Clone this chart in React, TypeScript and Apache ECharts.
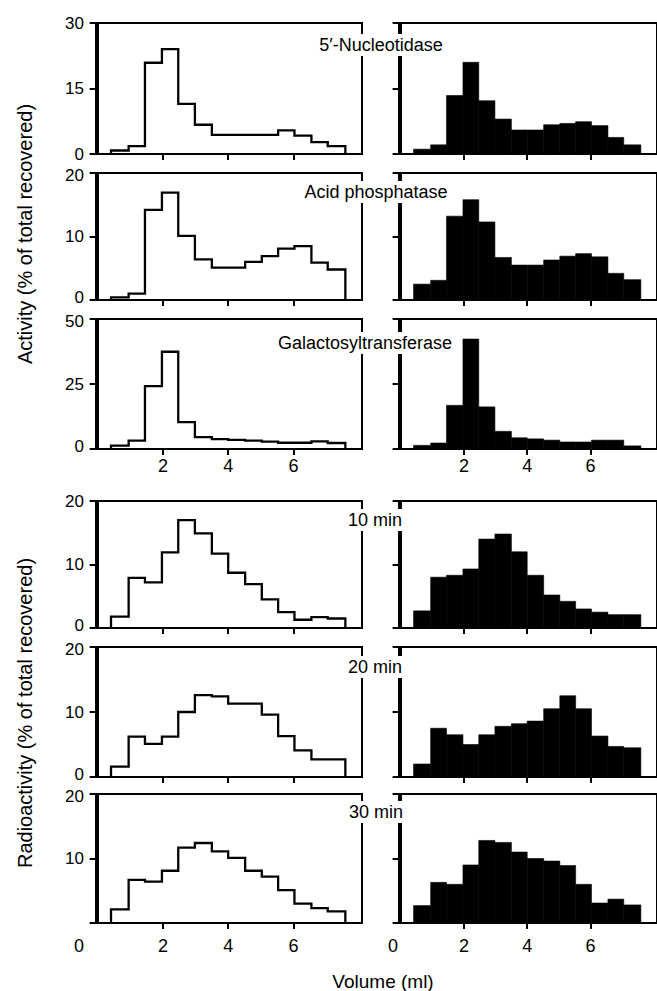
import React, { useEffect, useRef } from "react";
import * as echarts from "echarts";

// ---- data ----
const binEdges = [0.41, 0.95, 1.45, 1.97, 2.47, 2.98, 3.5, 4.0, 4.52, 5.03, 5.53, 6.03, 6.55, 7.05, 7.59];
const xTickValues = [2, 4, 6];

const panelNames = ["5′-Nucleotidase", "Acid phosphatase", "Galactosyltransferase", "10 min", "20 min", "30 min"];
const yMax = [30, 20, 50, 20, 20, 20];

// open histograms (left column)
const nucleotidaseOpen = [0.8, 1.8, 20.9, 24.0, 11.5, 6.7, 4.4, 4.4, 4.4, 4.4, 5.4, 4.2, 2.7, 1.8];
const acidOpen = [0.4, 1.0, 14.2, 16.9, 10.1, 6.4, 5.1, 5.1, 6.0, 6.9, 8.1, 8.5, 5.9, 4.8];
const galactoOpen = [1.3, 3.2, 24.2, 37.4, 10.3, 4.6, 3.8, 3.5, 3.2, 2.8, 2.4, 2.4, 2.9, 2.3];
const min10Open = [1.8, 7.9, 7.2, 11.9, 17.0, 14.9, 11.7, 8.7, 6.9, 4.5, 2.5, 1.3, 1.7, 1.5];
const min20Open = [1.6, 6.2, 5.1, 6.2, 10.0, 12.6, 12.4, 11.3, 11.3, 9.6, 6.3, 4.1, 2.7, 2.7];
const min30Open = [2.1, 6.7, 6.4, 8.1, 11.7, 12.4, 11.1, 10.1, 8.1, 7.2, 5.1, 3.0, 2.3, 1.8];

// filled histograms (right column)
const nucleotidaseFilled = [1.1, 2.1, 13.4, 21.0, 12.2, 8.0, 5.5, 5.5, 6.7, 7.0, 7.4, 6.5, 3.8, 2.1];
const acidFilled = [2.5, 3.1, 13.2, 15.8, 12.3, 6.7, 5.5, 5.5, 6.3, 6.9, 7.3, 6.8, 4.2, 3.2];
const galactoFilled = [1.4, 2.3, 16.8, 42.3, 16.2, 6.8, 4.3, 3.9, 3.4, 2.7, 2.7, 3.4, 3.4, 1.2];
const min10Filled = [2.7, 8.0, 8.3, 9.3, 14.0, 14.8, 12.0, 8.3, 5.2, 4.2, 3.0, 2.5, 2.1, 2.1];
const min20Filled = [2.0, 7.5, 6.5, 5.0, 6.5, 7.8, 8.2, 8.6, 10.5, 12.5, 10.5, 6.3, 4.7, 4.5];
const min30Filled = [2.7, 6.3, 6.0, 9.0, 12.8, 12.5, 11.0, 10.0, 9.6, 8.9, 6.0, 3.1, 3.7, 2.8];

const openSeries = [nucleotidaseOpen, acidOpen, galactoOpen, min10Open, min20Open, min30Open];
const filledSeries = [nucleotidaseFilled, acidFilled, galactoFilled, min10Filled, min20Filled, min30Filled];

// ---- layout ----
const FONT = "'Liberation Sans', Arial, Helvetica, sans-serif";
const rowTop = [23, 173, 319, 501, 647, 794];
const rowHeight = [131, 127, 130, 127, 130, 129];
const colLeft = [96, 399];
const colWidth = 266;
const labelPos = [
  [381, 45],
  [376, 192],
  [365, 343],
  [375, 520],
  [375, 667],
  [376, 812],
];
const xLabelRows: Record<number, number> = { 2: 8, 5: 14 };

function outline(values: number[]) {
  const pts: number[][] = [[binEdges[0], 0]];
  values.forEach((v, i) => {
    pts.push([binEdges[i], v]);
    pts.push([binEdges[i + 1], v]);
  });
  pts.push([binEdges[values.length], 0]);
  return pts;
}

export default function App() {
  const ref = useRef<HTMLDivElement>(null);
  useEffect(() => {
    const chart = echarts.init(ref.current!, null, { renderer: "svg" });
    const grids: any[] = [];
    const xAxes: any[] = [];
    const yAxes: any[] = [];
    const series: any[] = [];
    const tickRich = {
      up: { fontSize: 17, fontFamily: FONT, color: "#000", padding: [0, 0, 5, 0] },
      down: { fontSize: 17, fontFamily: FONT, color: "#000", padding: [5, 0, 0, 0] },
    };
    for (let r = 0; r < 6; r++) {
      for (let c = 0; c < 2; c++) {
        const idx = r * 2 + c;
        grids.push({
          left: colLeft[c],
          top: rowTop[r],
          width: colWidth,
          height: rowHeight[r],
          show: true,
          borderColor: "#000",
          borderWidth: 2,
          backgroundColor: "transparent",
          containLabel: false,
        });
        const showX = xLabelRows[r] !== undefined;
        xAxes.push({
          gridIndex: idx,
          type: "value",
          min: -0.05,
          max: 8.1,
          axisLine: { show: true, onZero: false, lineStyle: { color: "#000", width: 2 } },
          axisTick: { show: true, inside: false, length: 6, customValues: xTickValues, lineStyle: { color: "#000", width: 2 } },
          axisLabel: {
            show: showX,
            customValues: xTickValues,
            color: "#000",
            fontSize: 18,
            fontFamily: FONT,
            margin: showX ? xLabelRows[r] : 8,
          },
          splitLine: { show: false },
        });
        const yTicks = [0, yMax[r] / 2, yMax[r]];
        const rr = r;
        yAxes.push({
          gridIndex: idx,
          type: "value",
          min: 0,
          max: yMax[r],
          axisLine: { show: true, lineStyle: { color: "#000", width: 2 } },
          axisTick: { show: true, inside: false, length: 8, customValues: yTicks, lineStyle: { color: "#000", width: 2 } },
          axisLabel: {
            show: c === 0,
            customValues: r === 5 ? [yMax[r] / 2, yMax[r]] : yTicks,
            color: "#000",
            fontSize: 17,
            fontFamily: FONT,
            margin: 12,
            rich: tickRich,
            formatter: (v: number) => {
              if (v === 0 && rr > 0) return "{up|0}";
              if (v === yMax[rr] && rr > 0 && rr !== 3) return "{down|" + v + "}";
              return String(v);
            },
          },
          splitLine: { show: false },
        });
        if (c === 0) {
          series.push({
            type: "line",
            xAxisIndex: idx,
            yAxisIndex: idx,
            data: outline(openSeries[r]),
            symbol: "none",
            lineStyle: { color: "#000", width: 2.3, join: "miter" },
            silent: true,
          });
        } else {
          const vals = filledSeries[r];
          series.push({
            type: "custom",
            xAxisIndex: idx,
            yAxisIndex: idx,
            data: vals.map((v, i) => [binEdges[i], binEdges[i + 1], v]),
            encode: { x: [0, 1], y: 2 },
            renderItem: (params: any, api: any) => {
              const p0 = api.coord([api.value(0), api.value(2)]);
              const p1 = api.coord([api.value(1), 0]);
              return {
                type: "rect",
                shape: { x: p0[0], y: p0[1], width: p1[0] - p0[0], height: p1[1] - p0[1] },
                style: { fill: "#000", stroke: "#000", lineWidth: 0.6 },
              };
            },
            silent: true,
          });
        }
      }
    }

    const graphics: any[] = panelNames.map((name, r) => ({
      type: "text",
      x: labelPos[r][0],
      y: labelPos[r][1],
      z: 100,
      style: {
        text: name,
        fill: "#000",
        fontSize: 18,
        fontFamily: FONT,
        align: "center",
        verticalAlign: "middle",
        backgroundColor: "#fff",
        padding: [2, 3],
      },
    }));
    graphics.push(
      {
        type: "text",
        x: 25,
        y: 234,
        rotation: Math.PI / 2,
        z: 100,
        style: { text: "Activity (% of total recovered)", fill: "#000", fontSize: 20, fontFamily: FONT, align: "center", verticalAlign: "middle" },
      },
      {
        type: "text",
        x: 25,
        y: 713,
        rotation: Math.PI / 2,
        z: 100,
        style: { text: "Radioactivity (% of total recovered)", fill: "#000", fontSize: 20, fontFamily: FONT, align: "center", verticalAlign: "middle" },
      },
      {
        type: "text",
        x: 383,
        y: 981,
        z: 100,
        style: { text: "Volume (ml)", fill: "#000", fontSize: 19, fontFamily: FONT, align: "center", verticalAlign: "middle" },
      },
      {
        type: "text",
        x: 79,
        y: 946,
        z: 100,
        style: { text: "0", fill: "#000", fontSize: 18, fontFamily: FONT, align: "center", verticalAlign: "middle" },
      },
      {
        type: "text",
        x: 393,
        y: 946,
        z: 100,
        style: { text: "0", fill: "#000", fontSize: 18, fontFamily: FONT, align: "center", verticalAlign: "middle" },
      }
    );

    chart.setOption({
      animation: false,
      backgroundColor: "#fff",
      grid: grids,
      xAxis: xAxes,
      yAxis: yAxes,
      series,
      graphic: graphics,
    });
    return () => chart.dispose();
  }, []);
  return (
    <div
      ref={ref}
      style={{ position: "absolute", left: 0, top: 0, width: 657, height: 991, background: "#fff" }}
    />
  );
}
